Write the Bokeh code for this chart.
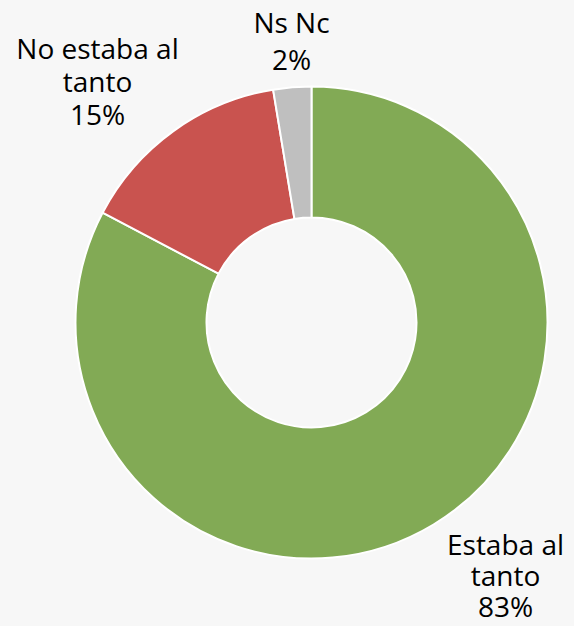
import numpy as np
from bokeh.plotting import figure
from bokeh.models import Range1d, ColumnDataSource
from bokeh.core.properties import value
from bokeh.embed import file_html
from bokeh.resources import INLINE

categories = ["Estaba al tanto", "No estaba al tanto", "Ns Nc"]
values = [82.7, 14.7, 2.6]
labels = ["83%", "15%", "2%"]
colors = ["#82AA55", "#C9534F", "#BFBFBF"]

BG = "#F7F7F7"
W, H = 574, 626
p = figure(width=W, height=H, output_backend="svg", toolbar_location=None,
           x_range=Range1d(0, W), y_range=Range1d(0, H))
p.axis.visible = False
p.grid.visible = False
p.outline_line_color = None
p.background_fill_color = BG
p.border_fill_color = BG
p.min_border = 0

cx, cy = 311, H - 322
frac = np.array(values) / sum(values)
cum = np.concatenate([[0], np.cumsum(frac)])
start = np.pi / 2 - 2 * np.pi * cum[:-1]
end = np.pi / 2 - 2 * np.pi * cum[1:]
src = ColumnDataSource(dict(start=start, end=end, color=colors, cat=categories))
p.annular_wedge(x=cx, y=cy, inner_radius=105, outer_radius=236,
                start_angle="start", end_angle="end", direction="clock",
                fill_color="color", line_color="white", line_width=2, source=src)

# labels: lines per category
lab_lines = [["Estaba al", "tanto", labels[0]],
             ["No estaba al", "tanto", labels[1]],
             ["Ns Nc", labels[2]]]
lab_pos = [(505, 543, 31), (97, 47, 33), (291, 21, 37)]
xs, ys, ts = [], [], []
for lines, (lx, ly, dy) in zip(lab_lines, lab_pos):
    for i, t in enumerate(lines):
        xs.append(lx); ys.append(H - (ly + i * dy)); ts.append(t)
p.text(x=xs, y=ys, text=ts, text_align="center", text_baseline="middle",
       text_font=value("Open Sans"), text_font_size="28px", text_color="#000000")

html = file_html(p, INLINE)
html = html.replace("<head>", "<head><style>html,body{margin:0;padding:0;background:%s;overflow:hidden;}</style>" % BG, 1)
open("out.html", "w").write(html)
